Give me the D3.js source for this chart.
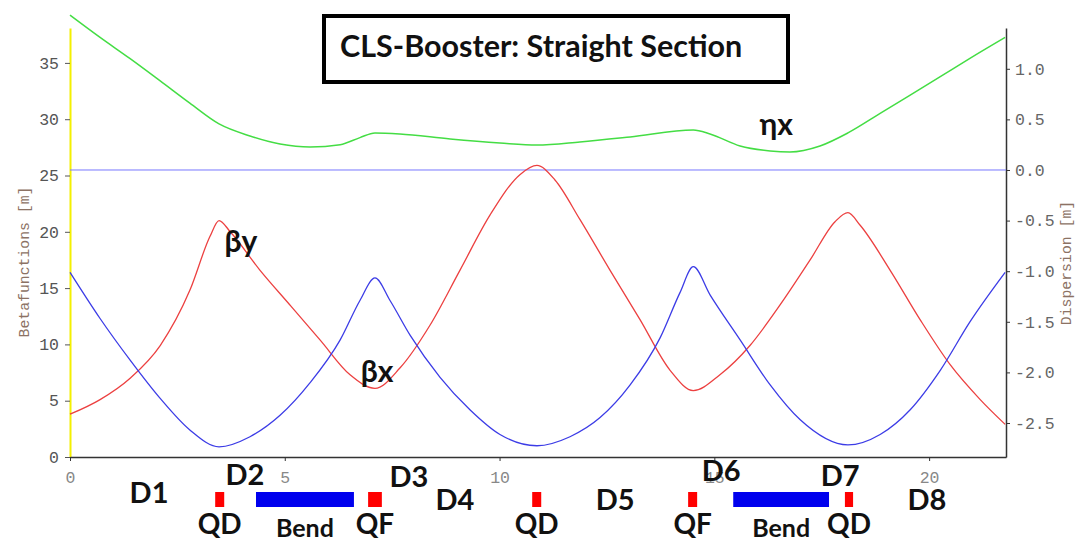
<!DOCTYPE html>
<html>
<head>
<meta charset="utf-8">
<script src="https://cdn.jsdelivr.net/npm/d3@7"></script>
<style>
body { margin: 0; background: #fff; }
.tick text { font-family: "Liberation Mono", monospace; font-size: 16.5px; }
.lbl { font-family: Lato, "Open Sans", sans-serif; font-weight: bold; fill: #111; }
.axtitle { font-family: "Liberation Mono", monospace; font-size: 14.8px; fill: #8c7264; }
</style>
</head>
<body>
<div class="container"></div>
<script>
// lattice functions: [s (m), value]
var betaX = [[0,16.4],[0.70,12.3],[1.40,8.6],[2.10,5.2],[2.79,2.4],[3.47,0.9],[4.19,1.8],[4.89,3.7],
  [5.59,6.6],[6.29,10.4],[6.75,13.9],[7.10,15.9],[7.45,13.9],[7.92,10.8],[8.61,7.1],[9.31,4.2],
  [10.01,2.0],[10.87,1.0],[11.64,1.8],[12.34,3.5],[13.04,6.4],[13.74,10.6],[14.20,14.6],[14.51,16.9],
  [14.90,14.4],[15.60,10.4],[16.30,6.4],[17.00,3.3],[18.11,1.07],[18.86,2.0],[19.56,4.2],[20.26,7.7],
  [20.95,12.0],[21.77,16.4]];

var betaY = [[0,3.8],[0.70,5.1],[1.40,7.0],[2.10,9.9],[2.79,14.8],[3.26,19.6],[3.47,21.0],[3.73,20.0],
  [4.42,16.6],[5.12,13.5],[5.82,10.4],[6.52,7.3],[7.10,6.1],[7.68,7.9],[8.38,11.7],[9.08,16.6],
  [9.78,21.5],[10.48,25.1],[10.87,25.9],[11.29,24.6],[11.87,21.1],[12.57,16.6],[13.27,12.2],[13.97,7.7],
  [14.51,5.9],[15.13,7.3],[15.83,9.9],[16.53,13.5],[17.23,17.5],[17.81,20.9],[18.11,21.7],[18.39,20.6],
  [19.09,16.6],[19.79,12.2],[20.49,8.2],[21.19,5.1],[21.77,2.9]];

var etaX = [[0,1.53],[0.70,1.31],[1.40,1.10],[2.10,0.88],[2.79,0.66],[3.47,0.455],[4.19,0.336],
  [4.89,0.257],[5.59,0.227],[6.29,0.25],[6.75,0.32],[7.10,0.366],[7.68,0.356],[8.85,0.306],
  [10.01,0.267],[10.87,0.247],[11.87,0.277],[13.04,0.326],[14.51,0.395],[14.90,0.356],[15.60,0.237],
  [16.30,0.188],[16.76,0.178],[17.46,0.237],[18.11,0.366],[18.86,0.559],[19.56,0.740],[20.26,0.922],
  [20.95,1.103],[21.77,1.31]];

var leftTicks = [0, 5, 10, 15, 20, 25, 30, 35];
var rightTicks = [1.0, 0.5, 0.0, -0.5, -1.0, -1.5, -2.0, -2.5];
var bottomTicks = [0, 5, 10, 15, 20];

// magnets: name, type, s start, s end
var elements = [
  ["QD", "quad", 3.38, 3.59], ["Bend", "bend", 4.33, 6.61], ["QF", "quad", 6.94, 7.26],
  ["QD", "quad", 10.76, 10.97], ["QF", "quad", 14.39, 14.60], ["Bend", "bend", 15.44, 17.67],
  ["QD", "quad", 18.04, 18.23]
];
var drifts = ["D1", "D2", "D3", "D4", "D5", "D6", "D7", "D8"];
var driftS = [1.84, 4.07, 7.89, 8.96, 12.69, 15.16, 17.93, 19.95];
var driftBaseline = [503, 485, 487, 510, 510, 481, 486, 510];

var width = 1078, height = 544;
var svg = d3.select(".container").append("svg").attr("width", width).attr("height", height);

var x = d3.scaleLinear().domain([0, 21.79]).range([70, 1006]);
var yBeta = d3.scaleLinear().domain([0, 38.1]).range([457, 28]);
var yDisp = d3.scaleLinear().domain([-2.836, 1.403]).range([457, 28]);

// axes
var gl = svg.append("g").attr("transform", "translate(70,0)")
  .call(d3.axisLeft(yBeta).tickValues(leftTicks).tickSize(5).tickSizeOuter(0).tickPadding(6));
gl.select(".domain").attr("stroke", "#f4f000").attr("stroke-width", 2);
gl.selectAll(".tick line").attr("stroke", "#555");
gl.selectAll(".tick text").attr("fill", "#555");

var gb = svg.append("g").attr("transform", "translate(0,457)")
  .call(d3.axisBottom(x).tickValues(bottomTicks).tickSize(4).tickSizeOuter(0).tickPadding(10));
gb.select(".domain").attr("stroke", "#333").attr("stroke-width", 1.5);
gb.selectAll(".tick line").attr("stroke", "#333");
gb.selectAll(".tick text").attr("fill", "#888");

var gr = svg.append("g").attr("transform", "translate(1006,0)")
  .call(d3.axisRight(yDisp).tickValues(rightTicks).tickSize(4).tickSizeOuter(0).tickPadding(5)
    .tickFormat(function(d) { return d.toFixed(1); }));
gr.select(".domain").attr("stroke", "#333").attr("stroke-width", 1.5);
gr.selectAll(".tick line").attr("stroke", "#333");
gr.selectAll(".tick text").attr("fill", "#666");

svg.append("text").attr("class", "axtitle").attr("text-anchor", "middle")
  .attr("transform", "translate(29,262) rotate(-90)").text("Betafunctions [m]");
svg.append("text").attr("class", "axtitle").attr("text-anchor", "middle")
  .attr("transform", "translate(1071,263) rotate(-90)").text("Dispersion [m]");

// zero line of dispersion
svg.append("line").attr("x1", x(0)).attr("x2", x(21.79))
  .attr("y1", yDisp(0)).attr("y2", yDisp(0))
  .attr("stroke", "#7878ff").attr("stroke-width", 1);

var lineBeta = d3.line().x(function(d) { return x(d[0]); }).y(function(d) { return yBeta(d[1]); })
  .curve(d3.curveMonotoneX);
var lineDisp = d3.line().x(function(d) { return x(d[0]); }).y(function(d) { return yDisp(d[1]); })
  .curve(d3.curveMonotoneX);

svg.append("path").datum(etaX).attr("d", lineDisp)
  .attr("fill", "none").attr("stroke", "#44dd44").attr("stroke-width", 1.5);
svg.append("path").datum(betaY).attr("d", lineBeta)
  .attr("fill", "none").attr("stroke", "#ec4040").attr("stroke-width", 1.3);
svg.append("path").datum(betaX).attr("d", lineBeta)
  .attr("fill", "none").attr("stroke", "#3c3ce6").attr("stroke-width", 1.3);

// curve labels
svg.append("text").attr("class", "lbl").attr("font-size", 30).attr("text-anchor", "middle")
  .attr("x", x(3.98)).attr("y", 252).text("βy");
svg.append("text").attr("class", "lbl").attr("font-size", 30).attr("text-anchor", "middle")
  .attr("x", x(7.15)).attr("y", 382).text("βx");
svg.append("text").attr("class", "lbl").attr("font-size", 30).attr("text-anchor", "middle")
  .attr("x", x(16.44)).attr("y", 135).text("ηx");

// title box
svg.append("rect").attr("x", 324).attr("y", 16).attr("width", 464).attr("height", 66)
  .attr("fill", "#fff").attr("stroke", "#000").attr("stroke-width", 4);
svg.append("text").attr("class", "lbl").attr("font-size", 30.5).attr("x", 340).attr("y", 57)
  .text("CLS-Booster: Straight Section");

// magnet layout
svg.selectAll(".mag").data(elements).enter().append("rect")
  .attr("class", "mag")
  .attr("x", function(d) { return x(d[2]); })
  .attr("width", function(d) { return x(d[3]) - x(d[2]); })
  .attr("y", 492).attr("height", 15)
  .attr("fill", function(d) { return d[1] == "bend" ? "#0000ee" : "#ff0000"; });

svg.selectAll(".magname").data(elements).enter().append("text")
  .attr("class", "lbl magname").attr("text-anchor", "middle")
  .attr("font-size", function(d) { return d[1] == "bend" ? 25 : 28; })
  .attr("x", function(d) { return x((d[2] + d[3]) / 2); })
  .attr("y", function(d) { return d[1] == "bend" ? 537 : 534; })
  .text(function(d) { return d[0]; });

svg.selectAll(".drift").data(drifts).enter().append("text")
  .attr("class", "lbl drift").attr("text-anchor", "middle").attr("font-size", 29)
  .attr("x", function(d, i) { return x(driftS[i]); })
  .attr("y", function(d, i) { return driftBaseline[i]; })
  .text(function(d) { return d; });
</script>
</body>
</html>
